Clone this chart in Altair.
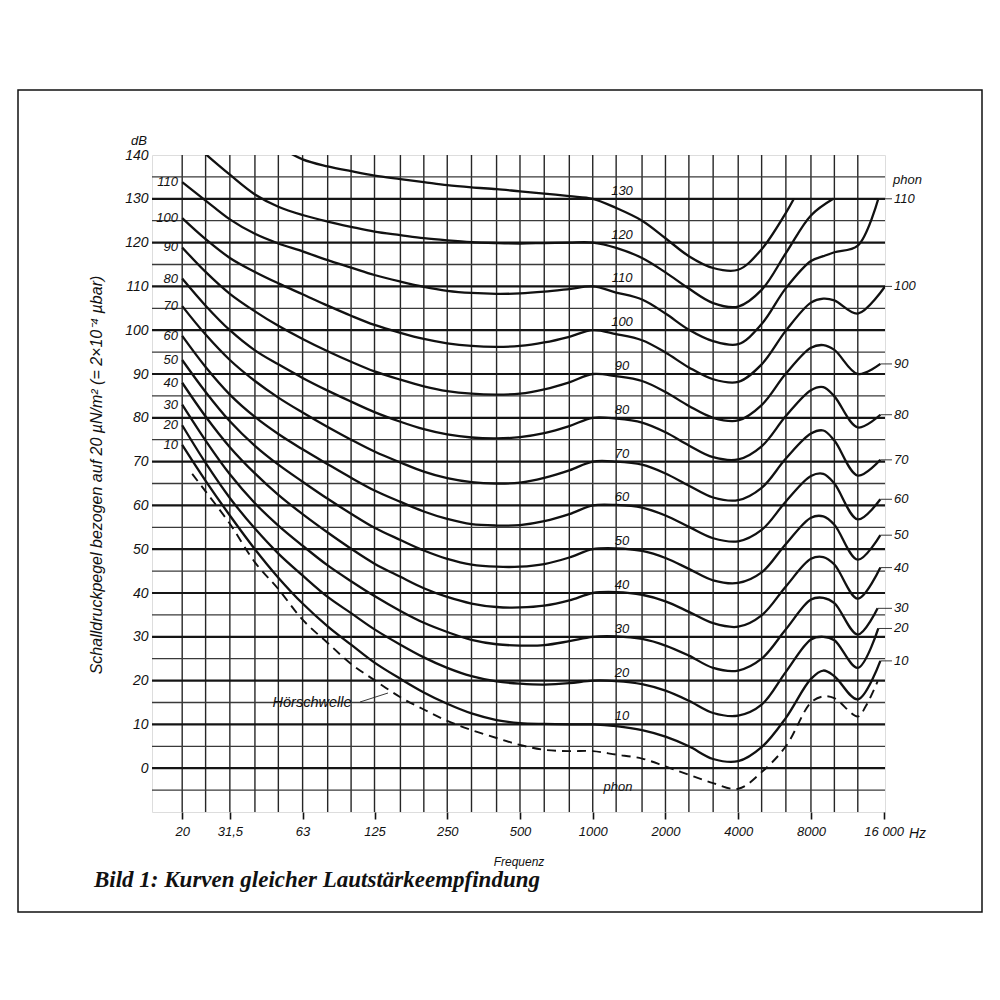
import altair as alt
import pandas as pd

W, H = 733, 657
XDOM = [15, 16200]
YDOM = [-10, 140]
FONT = "Liberation Sans"

# ---------------- data ----------------
freq_hz = [20, 25, 31.5, 40, 50, 63, 80, 100, 125, 160, 200, 250, 315, 400, 500,
           630, 800, 1000, 1250, 1600, 2000, 2500, 3150, 4000, 5000, 6300, 8000,
           9000, 10000, 12500]

phon_10 = [73.8, 65.6, 57.7, 50.0, 43.5, 37.6, 32.4, 28.2, 24.1, 20.4, 17.3, 14.7, 12.5, 11.0, 10.3,
           10.1, 10.0, 10.0, 9.6, 8.7, 7.2, 5.0, 2.1, 1.6, 4.8, 11.5, 20.4, 22.3, 21.0, 15.7]
phon_20 = [78.3, 69.7, 61.7, 54.7, 49.0, 44.0, 39.1, 35.4, 31.7, 28.2, 25.3, 22.9, 21.0, 19.8, 19.3,
           19.1, 19.4, 20.0, 19.9, 19.2, 17.7, 15.4, 12.6, 12.0, 14.5, 22.0, 29.4, 30.0, 29.2, 22.9]
phon_30 = [83.0, 74.8, 67.1, 60.5, 55.4, 50.8, 46.3, 42.7, 39.3, 35.9, 33.2, 31.1, 29.3, 28.3, 28.0,
           28.1, 29.0, 30.0, 30.1, 29.5, 28.0, 25.7, 22.9, 22.3, 25.0, 31.7, 38.5, 38.9, 37.7, 30.5]
phon_40 = [88.0, 80.3, 73.3, 67.3, 62.4, 58.0, 53.8, 50.1, 46.7, 43.7, 41.1, 39.1, 37.6, 36.8, 36.7,
           37.1, 38.3, 40.0, 40.2, 39.6, 38.1, 35.7, 33.1, 32.3, 34.9, 41.5, 47.8, 48.2, 46.5, 38.7]
phon_50 = [93.2, 85.9, 79.2, 73.6, 69.3, 65.4, 61.5, 58.1, 54.9, 52.1, 49.7, 47.8, 46.5, 46.0, 46.0,
           46.6, 48.1, 50.0, 50.2, 49.6, 48.0, 45.5, 42.9, 42.3, 44.7, 51.2, 57.2, 57.5, 55.6, 47.6]
phon_60 = [98.7, 91.6, 85.3, 80.2, 76.3, 72.8, 69.4, 66.3, 63.4, 60.8, 58.6, 56.9, 55.7, 55.4, 55.5,
           56.4, 58.0, 60.0, 60.1, 59.5, 57.7, 55.1, 52.5, 51.8, 54.4, 60.9, 66.7, 67.2, 65.0, 56.8]
phon_70 = [105.5, 99.0, 93.2, 88.4, 84.6, 81.2, 77.9, 75.0, 72.3, 69.8, 67.7, 66.2, 65.3, 65.0, 65.2,
           66.3, 68.0, 70.0, 70.0, 69.3, 67.3, 64.5, 61.8, 61.2, 64.0, 70.7, 76.4, 77.1, 74.8, 66.8]
phon_80 = [111.8, 105.6, 100.0, 95.4, 92.2, 89.1, 86.2, 83.7, 81.3, 79.1, 77.4, 76.2, 75.5, 75.3, 75.6,
           76.5, 78.1, 80.0, 79.8, 78.9, 76.7, 73.7, 71.0, 70.5, 73.5, 80.4, 86.3, 87.0, 84.9, 77.8]
phon_90 = [118.9, 113.3, 108.3, 104.3, 101.0, 98.0, 95.2, 92.8, 90.6, 88.7, 87.2, 86.1, 85.5, 85.3, 85.5,
           86.5, 88.1, 90.0, 89.5, 88.4, 85.9, 82.7, 80.0, 79.4, 82.9, 90.1, 96.0, 96.6, 95.5, 90.0]
phon_100 = [125.6, 120.8, 116.5, 113.3, 110.7, 108.2, 105.6, 103.3, 101.2, 99.4, 98.0, 97.0, 96.4, 96.2, 96.4,
            97.2, 98.5, 100.0, 99.1, 97.7, 94.9, 91.5, 88.8, 88.2, 92.2, 99.9, 106.3, 107.2, 106.8, 103.8]
phon_110 = [133.8, 129.6, 125.3, 122.0, 119.8, 118.0, 116.0, 114.3, 112.6, 111.1, 109.9, 109.0, 108.5, 108.3, 108.4,
            108.8, 109.4, 110.0, 108.6, 107.0, 103.8, 100.1, 97.5, 96.8, 101.4, 109.6, 115.8, 116.9, 117.8, 119.3]

levels = [10, 20, 30, 40, 50, 60, 70, 80, 90, 100, 110]
end_hz = [15500, 15200, 15100, 15500, 15500, 15500, 15500, 15500, 15500, 16200, 15200]
end_db = [24.5, 31.9, 36.5, 45.8, 53.2, 61.4, 70.4, 80.7, 92.3, 110.0, 130.0]

hz_120 = [20, 25, 31.5, 40, 50, 63, 80, 100, 125, 160, 200, 250, 315, 400, 500, 630, 800, 1000,
          1250, 1600, 2000, 2500, 3150, 4000, 5000, 6300, 8000, 9900]
db_120 = [145.0, 140.2, 135.5, 131.0, 128.2, 126.3, 124.8, 123.6, 122.5, 121.7, 121.0, 120.5, 120.1, 119.9,
          119.8, 119.9, 120.0, 120.0, 118.8, 116.5, 113.2, 109.5, 106.2, 105.4, 109.2, 117.6, 126.2, 130.0]
hz_130 = [50, 63, 80, 100, 125, 160, 200, 250, 315, 400, 500, 630, 800, 1000, 1250, 1600, 2000, 2500,
          3150, 4000, 5000, 6300, 6800]
db_130 = [142.0, 139.0, 137.4, 136.3, 135.3, 134.5, 133.8, 133.1, 132.6, 132.2, 131.7, 131.2, 130.6, 130.0,
          127.9, 125.0, 121.0, 116.9, 114.2, 113.8, 118.5, 126.8, 130.0]

# Hörschwelle (threshold of hearing, dashed)
thr_hz = [22, 25, 31.5, 40, 50, 63, 80, 100, 125, 160, 200, 250, 315, 400, 500, 630, 800, 1000, 1250,
          1600, 2000, 2500, 3150, 4000, 5000, 6300, 8000, 9000, 10000, 12500, 13500, 15100]
thr_db = [67.2, 63.2, 55.8, 47.0, 40.9, 33.9, 28.6, 23.8, 20.1, 16.2, 13.4, 10.8, 8.7, 6.9, 5.3, 4.2, 3.9,
          3.9, 3.1, 2.2, 0.4, -1.5, -3.4, -4.7, -0.9, 5.0, 15.0, 16.4, 16.0, 11.8, 14.2, 19.8]

grid_hz = [20, 25, 31.5, 40, 50, 63, 80, 100, 125, 160, 200, 250, 315, 400, 500, 630, 800, 1000,
           1250, 1600, 2000, 2500, 3150, 4000, 5000, 6300, 8000, 10000, 12500]
grid_db = list(range(-5, 140, 5))
tick_hz = [20, 31.5, 63, 125, 250, 500, 1000, 2000, 4000, 8000, 16000]
tick_txt = ["20", "31,5", "63", "125", "250", "500", "1000", "2000", "4000", "8000", "16 000"]
db_ticks = list(range(0, 141, 10))

# ---------------- tables ----------------
curve_vals = [phon_10, phon_20, phon_30, phon_40, phon_50, phon_60, phon_70, phon_80,
              phon_90, phon_100, phon_110]
rows = []
for p, vals, ef, ed in zip(levels, curve_vals, end_hz, end_db):
    for f, d in zip(freq_hz + [ef], vals + [ed]):
        rows.append({"phon": p, "f": f, "db": d})
for f, d in zip(hz_120, db_120):
    rows.append({"phon": 120, "f": f, "db": d})
for f, d in zip(hz_130, db_130):
    rows.append({"phon": 130, "f": f, "db": d})
df_curves = pd.DataFrame(rows)
df_thr = pd.DataFrame({"f": thr_hz, "db": thr_db})

df_vgrid = pd.DataFrame({"f": grid_hz})
df_hgrid = pd.DataFrame({"db": grid_db,
                         "w": [2.2 if v % 10 == 0 else 1.3 for v in grid_db],
                         "c": ["#151515" if v % 10 == 0 else "#3a3a3a" for v in grid_db]})

all_levels = levels + [120, 130]
df_mid = pd.DataFrame({"db": all_levels, "lab": [str(v) for v in all_levels]})
df_left = pd.DataFrame({"db": [v[0] for v in curve_vals], "lab": [str(v) for v in levels]})
df_right = pd.DataFrame({"f": end_hz, "db": end_db, "lab": [str(v) for v in levels]})
one = pd.DataFrame({"k": [0]})

label_expr = " : ".join(f"datum.value == {v} ? '{t}'" for v, t in zip(tick_hz, tick_txt)) + " : ''"

xs = alt.Scale(type="log", domain=XDOM)
ys = alt.Scale(domain=YDOM)
x_axis = alt.Axis(values=tick_hz, labelExpr=label_expr, title="Frequenz", tickSize=7, tickWidth=1.6,
                  tickColor="#111", domain=False, grid=False, labelFont=FONT, labelFontStyle="italic",
                  labelFontSize=13, labelColor="#111", labelPadding=6, labelFlush=False,
                  labelOverlap=False, titleFont=FONT, titleFontStyle="italic", titleFontWeight="normal",
                  titleFontSize=12, titleColor="#111", titlePadding=18)
y_axis = alt.Axis(values=db_ticks, title=None, tickSize=0, domain=False, grid=False, labelFont=FONT,
                  labelFontStyle="italic", labelFontSize=14, labelColor="#111", labelPadding=4,
                  labelOverlap=False)


def X(field="f"):
    return alt.X(field, type="quantitative", scale=xs, axis=x_axis)


def Y(field="db"):
    return alt.Y(field, type="quantitative", scale=ys, axis=y_axis)


def txt(mark_kwargs, x, y):
    return alt.Chart(one).mark_text(**mark_kwargs).encode(x=alt.value(x), y=alt.value(y))


frame = alt.Chart(one).mark_rect(fillOpacity=0, stroke="#111", strokeWidth=1.5).encode(
    x=alt.value(-134), x2=alt.value(830), y=alt.value(-65), y2=alt.value(757))

vgrid = alt.Chart(df_vgrid).mark_rule(color="#262626", strokeWidth=1.4).encode(x=X())
hgrid = alt.Chart(df_hgrid).mark_rule().encode(
    y=Y(), size=alt.Size("w:Q", scale=None), color=alt.Color("c:N", scale=None))

curves = alt.Chart(df_curves).mark_line(color="#111", strokeWidth=2.3, interpolate="catmull-rom",
                                        clip=True).encode(x=X(), y=Y(), detail="phon:N")
thr = alt.Chart(df_thr).mark_line(color="#111", strokeWidth=1.9, strokeDash=[9, 6],
                                  interpolate="catmull-rom", clip=True).encode(x=X(), y=Y())

lab_style = dict(font=FONT, fontStyle="italic", fontSize=13, color="#111")
mid_labels = alt.Chart(df_mid).mark_text(align="center", baseline="middle", dy=-8, **lab_style).encode(
    x=alt.value(470), y=Y(), text="lab:N")
left_labels = alt.Chart(df_left).mark_text(align="right", baseline="middle", **lab_style).encode(
    x=alt.value(26), y=Y(), text="lab:N")
right_labels = alt.Chart(df_right).mark_text(align="left", baseline="middle", **lab_style).encode(
    x=alt.value(W + 9), y=Y(), text="lab:N")
leaders = alt.Chart(df_right).mark_rule(color="#222", strokeWidth=0.9).encode(
    x=X(), x2=alt.value(W + 7), y=Y())

t_phon_top = txt(dict(text="phon", align="left", baseline="middle", **lab_style), W + 8, 25)
t_phon_bot = txt(dict(text="phon", align="center", baseline="middle", **lab_style), 466, 632)
t_db = txt(dict(text="dB", align="center", baseline="middle", font=FONT, fontStyle="italic",
                fontSize=13, color="#111"), -13, -14)
t_hz = txt(dict(text="Hz", align="left", baseline="middle", font=FONT, fontStyle="italic",
                fontSize=14, color="#111"), W + 24, 679)
t_hs = txt(dict(text="Hörschwelle", align="center", baseline="middle", font=FONT, fontStyle="italic",
                fontSize=14.5, color="#111"), 160, 548)
hs_lead = alt.Chart(one).mark_rule(color="#222", strokeWidth=0.9).encode(
    x=alt.value(208), x2=alt.value(236), y=alt.value(547), y2=alt.value(538))
t_ytitle = txt(dict(text="Schalldruckpegel bezogen auf 20 µN/m² (= 2×10⁻⁴ µbar)", angle=270,
                    align="center", baseline="middle", font=FONT, fontStyle="italic", fontSize=16,
                    color="#111"), -55, 320)
t_title = txt(dict(text="Bild 1: Kurven gleicher Lautstärkeempfindung", align="left",
                   baseline="alphabetic", font="Liberation Serif", fontStyle="italic",
                   fontWeight="bold", fontSize=23, color="#111"), -58, 732)

chart = alt.layer(
    frame, vgrid, hgrid, curves, thr, mid_labels, left_labels, right_labels, leaders,
    t_phon_top, t_phon_bot, t_db, t_hz, t_hs, hs_lead, t_ytitle, t_title
).properties(
    width=W, height=H,
    padding={"left": 144, "top": 147, "right": 100, "bottom": 170},
    autosize=alt.AutoSizeParams(type="none"),
).configure_view(stroke="#111", strokeWidth=2.2).configure(background="white")

chart.save("out.html", embed_options={"renderer": "svg", "actions": False})
